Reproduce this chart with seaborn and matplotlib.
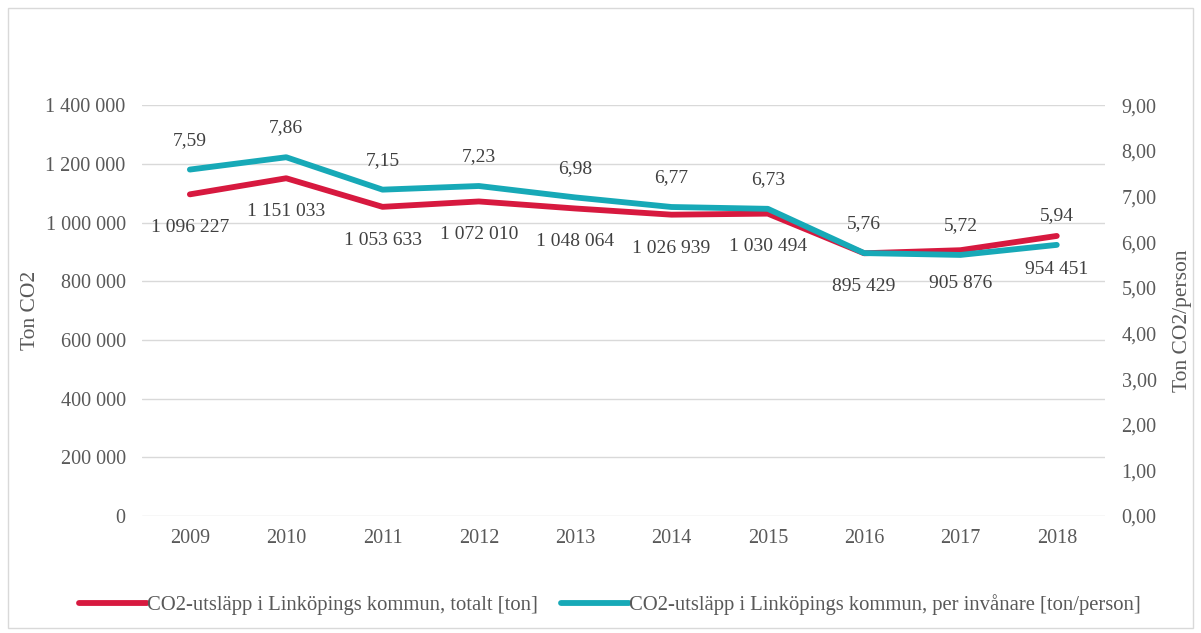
import numpy as np
import pandas as pd
import matplotlib
matplotlib.use("Agg")
import matplotlib.pyplot as plt
import seaborn as sns
from matplotlib.patches import Rectangle

# ==================== data ====================
years = ["2009", "2010", "2011", "2012", "2013", "2014", "2015", "2016", "2017", "2018"]
total_ton = [1096227, 1151033, 1053633, 1072010, 1048064, 1026939, 1030494, 895429, 905876, 954451]
per_person = [7.59, 7.86, 7.15, 7.23, 6.98, 6.77, 6.73, 5.76, 5.72, 5.94]

left_ticks = [0, 200000, 400000, 600000, 800000, 1000000, 1200000, 1400000]
right_ticks = [0, 1, 2, 3, 4, 5, 6, 7, 8, 9]

label_total = "CO2-utsläpp i Linköpings kommun, totalt [ton]"
label_per = "CO2-utsläpp i Linköpings kommun, per invånare [ton/person]"

RED = "#D7193F"
TEAL = "#17A9B7"
GREY_TXT = "#595959"
GRID = "#D9D9D9"


def fmt_int(v):
    return f"{int(v):,}".replace(",", " ")


def fmt_dec(v):
    return f"{v:.2f}".replace(".", ",")


sns.set_theme(style="white")
plt.rcParams["font.family"] = ["Liberation Serif", "DejaVu Serif"]

df = pd.DataFrame({"pos": np.arange(len(years)), "total": total_ton, "per": per_person})

fig = plt.figure(figsize=(12.01, 6.33), dpi=100)
ax = fig.add_axes([0.118, 0.1848, 0.802, 0.649])
ax2 = ax.twinx()

sns.lineplot(data=df, x="pos", y="total", ax=ax, color=RED, lw=4.2, zorder=3)
sns.lineplot(data=df, x="pos", y="per", ax=ax2, color=TEAL, lw=4.2, zorder=3)

ax.set_xlim(-0.5, len(years) - 0.5)
ax.set_ylim(0, 1400000)
ax2.set_ylim(0, 9)
ax.set_yticks(left_ticks)
ax.set_yticklabels([fmt_int(t) for t in left_ticks])
ax2.set_yticks(right_ticks)
ax2.set_yticklabels([fmt_dec(t) for t in right_ticks])
ax.set_xticks(df["pos"])
ax.set_xticklabels(years)

ax.grid(axis="y", color=GRID, lw=1)
ax.grid(axis="x", visible=False)
ax2.grid(False)
for a in (ax, ax2):
    for s in a.spines.values():
        s.set_visible(False)
    a.tick_params(colors=GREY_TXT, labelsize=14.5, length=0)
ax.tick_params(axis="x", pad=9)
ax.tick_params(axis="y", pad=11.5)
ax2.tick_params(axis="y", pad=12)

ax.set_xlabel("")
ax.set_ylabel("Ton CO2", fontsize=15.5, color=GREY_TXT)
ax2.set_ylabel("Ton CO2/person", fontsize=15.5, color=GREY_TXT)
ax.yaxis.set_label_coords(-0.106, 0.5)
ax2.yaxis.set_label_coords(1.071, 0.475)
ax2.set_zorder(ax.get_zorder() + 1)

# data labels
for i, v in enumerate(total_ton):
    ax.annotate(fmt_int(v), (i, v), xytext=(0, -24), textcoords="offset points",
                ha="center", va="center", fontsize=14, color="#404040")
for i, v in enumerate(per_person):
    ax2.annotate(fmt_dec(v), (i, v), xytext=(0, 21), textcoords="offset points",
                 ha="center", va="center", fontsize=14, color="#404040")

# legend
h1 = plt.Line2D([], [], color=RED, lw=4.2, solid_capstyle="round")
h2 = plt.Line2D([], [], color=TEAL, lw=4.2, solid_capstyle="round")
fig.legend([h1, h2], [label_total, label_per], loc="center", bbox_to_anchor=(0.508, 0.045),
           ncol=2, frameon=False, fontsize=14.9, handlelength=3.3, handletextpad=0.0,
           columnspacing=1.1, labelcolor=GREY_TXT)

# outer border
fig.patches.append(Rectangle((0.007, 0.008), 0.986, 0.98, transform=fig.transFigure,
                             fill=False, edgecolor="#D9D9D9", lw=1))

fig.savefig("out.png", dpi=100)
